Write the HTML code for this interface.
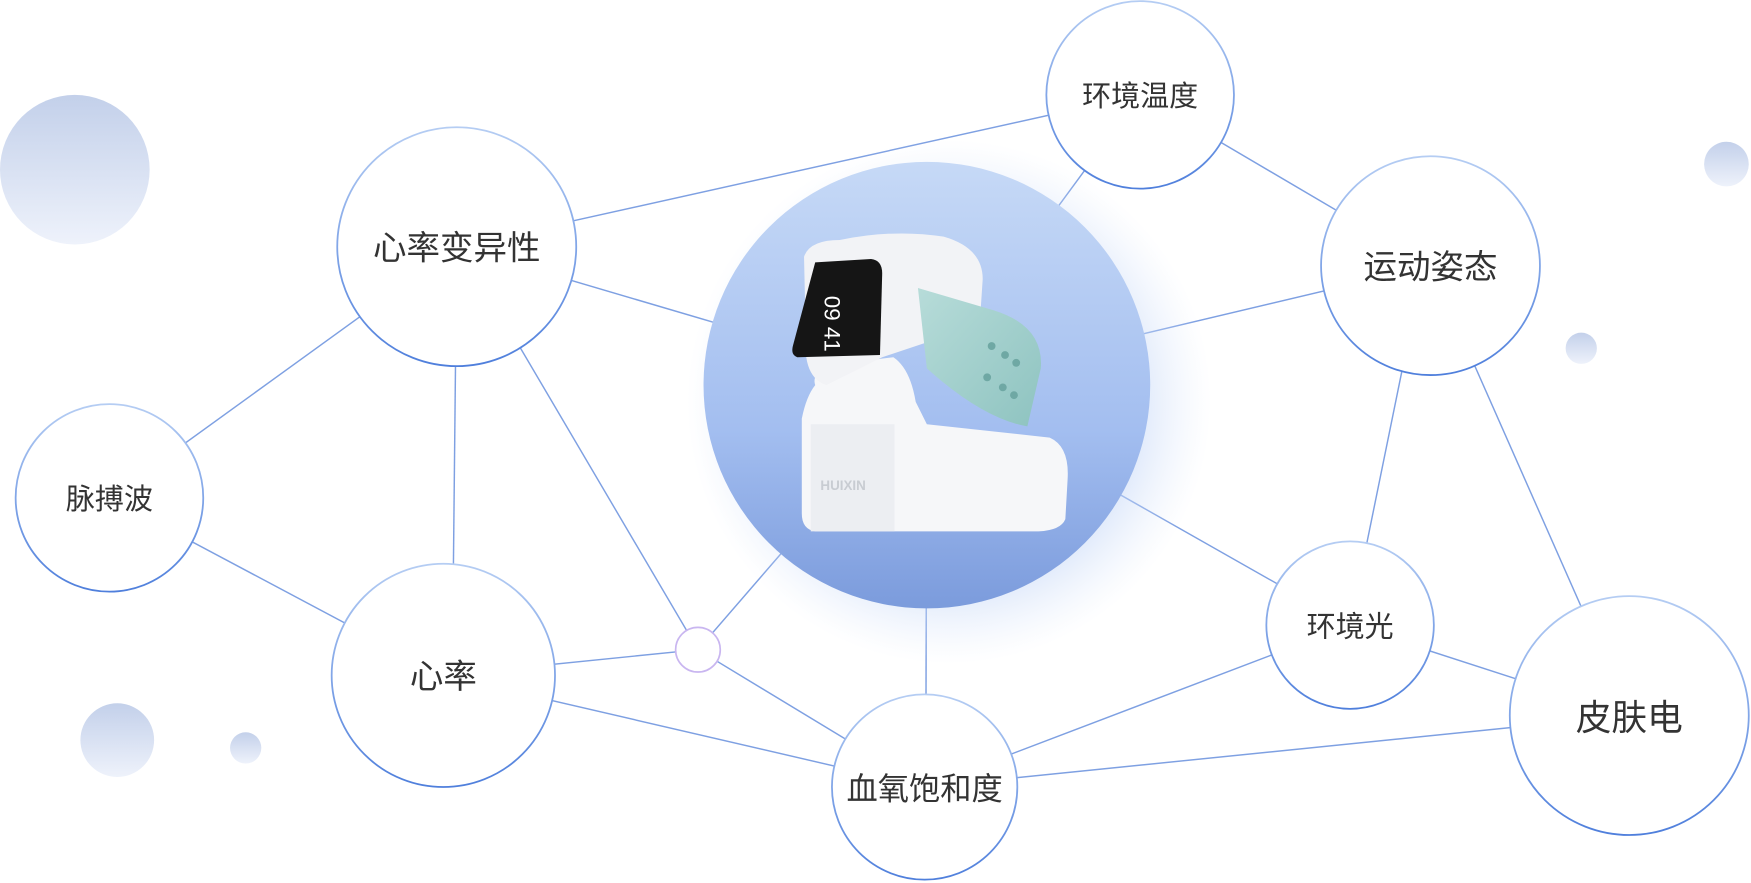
<!DOCTYPE html>
<html><head><meta charset="utf-8"><style>
html,body{margin:0;padding:0;background:#fff;}
svg{display:block;}
text{font-family:"Liberation Sans","Noto Sans CJK SC",sans-serif;fill:#333;text-anchor:middle;dominant-baseline:central;}
</style></head><body>
<svg width="1751" height="883" viewBox="0 0 1568 791" preserveAspectRatio="none">
<defs>
<linearGradient id="ns" x1="0" y1="0" x2="0" y2="1">
<stop offset="0" stop-color="#b5cdf3"/><stop offset="1" stop-color="#4f7fdc"/></linearGradient>
<linearGradient id="cg" x1="0" y1="0" x2="0" y2="1">
<stop offset="0" stop-color="#c6d9f6"/><stop offset="0.6" stop-color="#a3bef0"/><stop offset="1" stop-color="#7b9bdc"/></linearGradient>
<linearGradient id="dg" x1="0" y1="0" x2="0" y2="1">
<stop offset="0" stop-color="#c3d0ea"/><stop offset="1" stop-color="#eef2fb"/></linearGradient>
<radialGradient id="glow" cx="0.5" cy="0.5" r="0.5">
<stop offset="0.6" stop-color="#b9cff5" stop-opacity="0.8"/><stop offset="1" stop-color="#dfe9fb" stop-opacity="0"/></radialGradient>
<linearGradient id="band" x1="0" y1="0" x2="1" y2="1">
<stop offset="0" stop-color="#b7dcd9"/><stop offset="1" stop-color="#8ec3c0"/></linearGradient>
</defs>
<!-- deco circles -->
<circle cx="67" cy="152" r="67" fill="url(#dg)"/>
<circle cx="1546" cy="147" r="20" fill="url(#dg)"/>
<circle cx="1416" cy="312" r="14" fill="url(#dg)"/>
<circle cx="105" cy="663" r="33" fill="url(#dg)"/>
<circle cx="220" cy="670" r="14" fill="url(#dg)"/>
<!-- lines -->
<g stroke="#7ea0e2" stroke-width="1.3" fill="none">
<line x1="409" y1="221" x2="1021" y2="85"/>
<line x1="409" y1="221" x2="830" y2="345"/>
<line x1="409" y1="221" x2="98" y2="446"/>
<line x1="409" y1="221" x2="405" y2="605"/>
<line x1="455" y1="293" x2="625" y2="582"/>
<line x1="1021" y1="85" x2="830" y2="345"/>
<line x1="1021" y1="85" x2="1281" y2="238"/>
<line x1="1281" y1="238" x2="830" y2="345"/>
<line x1="1262" y1="300" x2="1209" y2="560"/>
<line x1="1281" y1="238" x2="1459" y2="641"/>
<line x1="830" y1="345" x2="1209" y2="560"/>
<line x1="830" y1="345" x2="829" y2="705"/>
<line x1="830" y1="345" x2="625" y2="582"/>
<line x1="98" y1="446" x2="397" y2="605"/>
<line x1="397" y1="605" x2="625" y2="582"/>
<line x1="397" y1="605" x2="828" y2="705"/>
<line x1="625" y1="582" x2="828" y2="705"/>
<line x1="1209" y1="560" x2="828" y2="705"/>
<line x1="1209" y1="560" x2="1459" y2="641"/>
<line x1="828" y1="705" x2="1459" y2="641"/>
</g>
<!-- center -->
<circle cx="850" cy="360" r="235" fill="url(#glow)"/>
<circle cx="830" cy="345" r="200" fill="url(#cg)"/>
<!-- device -->
<path d="M730 345 Q725 330 760 325 L800 320 Q815 330 820 360 L830 380 L940 392 Q958 400 956 430 L954 465 Q950 475 930 476 L730 476 Q718 474 718 460 L718 375 Q722 355 730 345Z" fill="#f6f7f9"/>
<rect x="726" y="380" width="75" height="96" fill="#eceef2"/>
<path d="M752 215 Q800 205 845 212 Q880 222 880 250 L878 280 L850 300 L790 320 L740 345 Q725 340 722 320 L720 230 Q725 215 752 215Z" fill="#f2f3f6"/>
<path d="M822 258 L890 278 Q935 292 932 330 L920 382 Q880 375 830 330 Z" fill="url(#band)"/>
<g fill="#6fa8a4"><circle cx="888" cy="310" r="3.5"/><circle cx="900" cy="318" r="3.5"/><circle cx="910" cy="325" r="3.5"/><circle cx="884" cy="338" r="3.5"/><circle cx="898" cy="347" r="3.5"/><circle cx="908" cy="354" r="3.5"/></g>
<path d="M730 235 L780 232 Q790 233 790 245 L788 318 L714 320 Q708 318 710 310 Z" fill="#151515"/>
<text x="745" y="290" font-size="20" style="fill:#fff" transform="rotate(90 745 290)">09 41</text>
<text x="755" y="435" font-size="12" style="fill:#c8ccd2;font-weight:bold">HUIXIN</text>
<!-- nodes -->
<g fill="#fff" stroke="url(#ns)" stroke-width="1.6">
<circle cx="1021" cy="85" r="84"/>
<circle cx="409" cy="221" r="107"/>
<circle cx="1281" cy="238" r="98"/>
<circle cx="98" cy="446" r="84"/>
<circle cx="397" cy="605" r="100"/>
<circle cx="1209" cy="560" r="75"/>
<circle cx="1459" cy="641" r="107"/>
<circle cx="828" cy="705" r="83"/>
</g>
<circle cx="625" cy="582" r="20" fill="#fff" stroke="#c9b6f0" stroke-width="1.5"/>
<text x="1021" y="87" font-size="26">环境温度</text>
<text x="409" y="223" font-size="30">心率变异性</text>
<text x="1281" y="240" font-size="30">运动姿态</text>
<text x="98" y="448" font-size="26">脉搏波</text>
<text x="397" y="607" font-size="30">心率</text>
<text x="1209" y="562" font-size="26">环境光</text>
<text x="1459" y="643" font-size="32">皮肤电</text>
<text x="828" y="707" font-size="28">血氧饱和度</text>
</svg>
</body></html>
